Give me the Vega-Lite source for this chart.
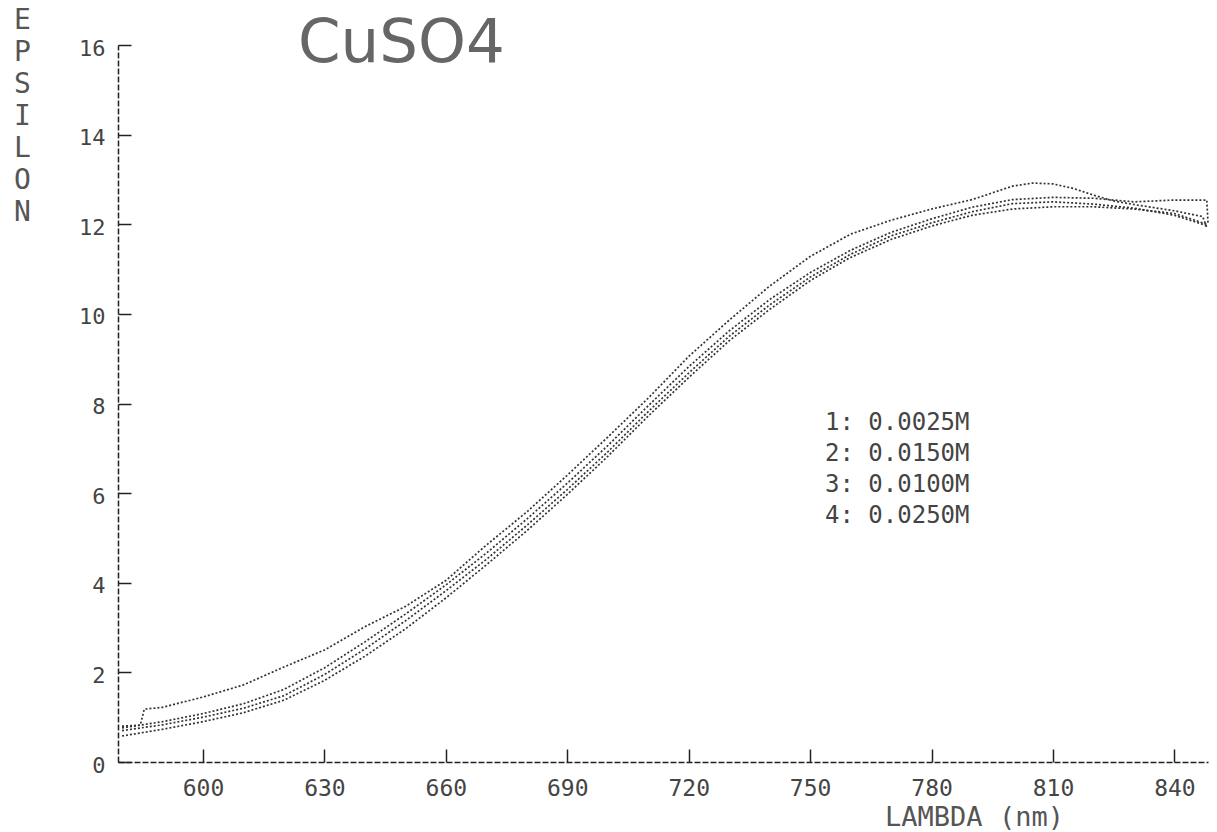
{
  "$schema": "https://vega.github.io/schema/vega-lite/v6.json",
  "autosize": "none",
  "padding": {"left": 118, "top": 45, "right": 9, "bottom": 70},
  "width": 1090,
  "height": 717,
  "background": "white",
  "title": {
    "text": "CuSO4",
    "anchor": "start",
    "frame": "group",
    "dx": 180,
    "dy": 63,
    "offset": -54,
    "baseline": "alphabetic",
    "font": "DejaVu Sans",
    "fontSize": 61,
    "fontWeight": "normal",
    "color": "#666666"
  },
  "config": {
    "view": {"stroke": null},
    "axis": {"grid": false}
  },
  "data": {
    "values": [
      {"s": "1: 0.0025M", "x": 580, "y": 0.8},
      {"s": "1: 0.0025M", "x": 584.5, "y": 0.82},
      {"s": "1: 0.0025M", "x": 585.5, "y": 1.18},
      {"s": "1: 0.0025M", "x": 590, "y": 1.22},
      {"s": "1: 0.0025M", "x": 600, "y": 1.45},
      {"s": "1: 0.0025M", "x": 610, "y": 1.72},
      {"s": "1: 0.0025M", "x": 620, "y": 2.12},
      {"s": "1: 0.0025M", "x": 630, "y": 2.5},
      {"s": "1: 0.0025M", "x": 640, "y": 3.02},
      {"s": "1: 0.0025M", "x": 650, "y": 3.47},
      {"s": "1: 0.0025M", "x": 660, "y": 4.05},
      {"s": "1: 0.0025M", "x": 670, "y": 4.84},
      {"s": "1: 0.0025M", "x": 680, "y": 5.58},
      {"s": "1: 0.0025M", "x": 690, "y": 6.4},
      {"s": "1: 0.0025M", "x": 700, "y": 7.25},
      {"s": "1: 0.0025M", "x": 710, "y": 8.12},
      {"s": "1: 0.0025M", "x": 720, "y": 9.05},
      {"s": "1: 0.0025M", "x": 730, "y": 9.86},
      {"s": "1: 0.0025M", "x": 740, "y": 10.62},
      {"s": "1: 0.0025M", "x": 750, "y": 11.28},
      {"s": "1: 0.0025M", "x": 760, "y": 11.78},
      {"s": "1: 0.0025M", "x": 770, "y": 12.09},
      {"s": "1: 0.0025M", "x": 780, "y": 12.34},
      {"s": "1: 0.0025M", "x": 790, "y": 12.55},
      {"s": "1: 0.0025M", "x": 795, "y": 12.7},
      {"s": "1: 0.0025M", "x": 800, "y": 12.85},
      {"s": "1: 0.0025M", "x": 805, "y": 12.92},
      {"s": "1: 0.0025M", "x": 810, "y": 12.9},
      {"s": "1: 0.0025M", "x": 815, "y": 12.8},
      {"s": "1: 0.0025M", "x": 820, "y": 12.65},
      {"s": "1: 0.0025M", "x": 825, "y": 12.52},
      {"s": "1: 0.0025M", "x": 830, "y": 12.44},
      {"s": "1: 0.0025M", "x": 840, "y": 12.3},
      {"s": "1: 0.0025M", "x": 847, "y": 12.17},
      {"s": "1: 0.0025M", "x": 848, "y": 11.92},
      {"s": "2: 0.0150M", "x": 580, "y": 0.76},
      {"s": "2: 0.0150M", "x": 590, "y": 0.9},
      {"s": "2: 0.0150M", "x": 600, "y": 1.08},
      {"s": "2: 0.0150M", "x": 610, "y": 1.3},
      {"s": "2: 0.0150M", "x": 620, "y": 1.62},
      {"s": "2: 0.0150M", "x": 630, "y": 2.1},
      {"s": "2: 0.0150M", "x": 640, "y": 2.68},
      {"s": "2: 0.0150M", "x": 650, "y": 3.3},
      {"s": "2: 0.0150M", "x": 660, "y": 3.95},
      {"s": "2: 0.0150M", "x": 670, "y": 4.66},
      {"s": "2: 0.0150M", "x": 680, "y": 5.42},
      {"s": "2: 0.0150M", "x": 690, "y": 6.22},
      {"s": "2: 0.0150M", "x": 700, "y": 7.06},
      {"s": "2: 0.0150M", "x": 710, "y": 7.95},
      {"s": "2: 0.0150M", "x": 720, "y": 8.82},
      {"s": "2: 0.0150M", "x": 730, "y": 9.62},
      {"s": "2: 0.0150M", "x": 740, "y": 10.32},
      {"s": "2: 0.0150M", "x": 750, "y": 10.92},
      {"s": "2: 0.0150M", "x": 760, "y": 11.42},
      {"s": "2: 0.0150M", "x": 770, "y": 11.82},
      {"s": "2: 0.0150M", "x": 780, "y": 12.12},
      {"s": "2: 0.0150M", "x": 790, "y": 12.38},
      {"s": "2: 0.0150M", "x": 800, "y": 12.55},
      {"s": "2: 0.0150M", "x": 810, "y": 12.6},
      {"s": "2: 0.0150M", "x": 820, "y": 12.58},
      {"s": "2: 0.0150M", "x": 830, "y": 12.5},
      {"s": "2: 0.0150M", "x": 840, "y": 12.54},
      {"s": "2: 0.0150M", "x": 848, "y": 12.54},
      {"s": "2: 0.0150M", "x": 848.3, "y": 12.03},
      {"s": "3: 0.0100M", "x": 580, "y": 0.7},
      {"s": "3: 0.0100M", "x": 590, "y": 0.83},
      {"s": "3: 0.0100M", "x": 600, "y": 1.0},
      {"s": "3: 0.0100M", "x": 610, "y": 1.2},
      {"s": "3: 0.0100M", "x": 620, "y": 1.48},
      {"s": "3: 0.0100M", "x": 630, "y": 1.95},
      {"s": "3: 0.0100M", "x": 640, "y": 2.52},
      {"s": "3: 0.0100M", "x": 650, "y": 3.15},
      {"s": "3: 0.0100M", "x": 660, "y": 3.82},
      {"s": "3: 0.0100M", "x": 670, "y": 4.52},
      {"s": "3: 0.0100M", "x": 680, "y": 5.28},
      {"s": "3: 0.0100M", "x": 690, "y": 6.08},
      {"s": "3: 0.0100M", "x": 700, "y": 6.92},
      {"s": "3: 0.0100M", "x": 710, "y": 7.82},
      {"s": "3: 0.0100M", "x": 720, "y": 8.68},
      {"s": "3: 0.0100M", "x": 730, "y": 9.5},
      {"s": "3: 0.0100M", "x": 740, "y": 10.2},
      {"s": "3: 0.0100M", "x": 750, "y": 10.82},
      {"s": "3: 0.0100M", "x": 760, "y": 11.33},
      {"s": "3: 0.0100M", "x": 770, "y": 11.74},
      {"s": "3: 0.0100M", "x": 780, "y": 12.03},
      {"s": "3: 0.0100M", "x": 790, "y": 12.28},
      {"s": "3: 0.0100M", "x": 800, "y": 12.46},
      {"s": "3: 0.0100M", "x": 810, "y": 12.5},
      {"s": "3: 0.0100M", "x": 820, "y": 12.45},
      {"s": "3: 0.0100M", "x": 830, "y": 12.36},
      {"s": "3: 0.0100M", "x": 840, "y": 12.2},
      {"s": "3: 0.0100M", "x": 848, "y": 11.97},
      {"s": "4: 0.0250M", "x": 580, "y": 0.58},
      {"s": "4: 0.0250M", "x": 590, "y": 0.73},
      {"s": "4: 0.0250M", "x": 600, "y": 0.9},
      {"s": "4: 0.0250M", "x": 610, "y": 1.1},
      {"s": "4: 0.0250M", "x": 620, "y": 1.38},
      {"s": "4: 0.0250M", "x": 630, "y": 1.82},
      {"s": "4: 0.0250M", "x": 640, "y": 2.36},
      {"s": "4: 0.0250M", "x": 650, "y": 2.97},
      {"s": "4: 0.0250M", "x": 660, "y": 3.66},
      {"s": "4: 0.0250M", "x": 670, "y": 4.4},
      {"s": "4: 0.0250M", "x": 680, "y": 5.16},
      {"s": "4: 0.0250M", "x": 690, "y": 5.97},
      {"s": "4: 0.0250M", "x": 700, "y": 6.82},
      {"s": "4: 0.0250M", "x": 710, "y": 7.72},
      {"s": "4: 0.0250M", "x": 720, "y": 8.58},
      {"s": "4: 0.0250M", "x": 730, "y": 9.4},
      {"s": "4: 0.0250M", "x": 740, "y": 10.1},
      {"s": "4: 0.0250M", "x": 750, "y": 10.74},
      {"s": "4: 0.0250M", "x": 760, "y": 11.26},
      {"s": "4: 0.0250M", "x": 770, "y": 11.66},
      {"s": "4: 0.0250M", "x": 780, "y": 11.96},
      {"s": "4: 0.0250M", "x": 790, "y": 12.2},
      {"s": "4: 0.0250M", "x": 800, "y": 12.34},
      {"s": "4: 0.0250M", "x": 810, "y": 12.39},
      {"s": "4: 0.0250M", "x": 820, "y": 12.39},
      {"s": "4: 0.0250M", "x": 830, "y": 12.34},
      {"s": "4: 0.0250M", "x": 840, "y": 12.24},
      {"s": "4: 0.0250M", "x": 848, "y": 12.0}
    ]
  },
  "mark": {"type": "line", "strokeWidth": 1.7, "strokeDash": [2, 2], "clip": false},
  "encoding": {
    "x": {
      "field": "x",
      "type": "quantitative",
      "scale": {"domain": [579, 848.3], "nice": false, "zero": false},
      "axis": {
        "values": [600, 630, 660, 690, 720, 750, 780, 810, 840],
        "title": "LAMBDA (nm)",
        "titleFont": "DejaVu Sans Mono",
        "titleFontSize": 27,
        "titleFontWeight": "normal",
        "titleColor": "#555555",
        "titleAnchor": "start",
        "titleAlign": "center",
        "titleBaseline": "alphabetic",
        "titleX": 856,
        "titleY": 63,
        "labelFont": "DejaVu Sans Mono",
        "labelFontSize": 23,
        "labelColor": "#444444",
        "labelBaseline": "middle",
        "labelPadding": 39,
        "labelFlush": false,
        "tickSize": -13,
        "tickColor": "#222222",
        "tickWidth": 1.5,
        "domainColor": "#222222",
        "domainWidth": 1.5,
        "domainDash": [6, 2]
      }
    },
    "y": {
      "field": "y",
      "type": "quantitative",
      "scale": {"domain": [0, 16], "nice": false},
      "axis": {
        "values": [0, 2, 4, 6, 8, 10, 12, 14, 16],
        "title": ["E", "P", "S", "I", "L", "O", "N"],
        "titleFont": "DejaVu Sans Mono",
        "titleFontSize": 28,
        "titleFontWeight": "normal",
        "titleColor": "#555555",
        "titleAngle": 0,
        "titleAlign": "center",
        "titleBaseline": "top",
        "titleLineHeight": 32,
        "titleX": -96,
        "titleY": -39,
        "labelFont": "DejaVu Sans Mono",
        "labelFontSize": 22,
        "labelColor": "#444444",
        "labelBaseline": "middle",
        "labelAlign": "right",
        "labelPadding": 26,
        "labelOffset": 3,
        "labelFlush": false,
        "tickSize": -13,
        "tickColor": "#222222",
        "tickWidth": 1.5,
        "domainColor": "#222222",
        "domainWidth": 1.5,
        "domainDash": [6, 2]
      }
    },
    "color": {
      "field": "s",
      "type": "nominal",
      "scale": {"range": ["#333333", "#333333", "#333333", "#333333"]},
      "legend": {
        "title": null,
        "orient": "none",
        "legendX": 683,
        "legendY": 366,
        "padding": 0,
        "symbolSize": 0,
        "symbolOpacity": 0,
        "symbolStrokeWidth": 0,
        "labelOffset": 0,
        "labelFont": "DejaVu Sans Mono",
        "labelFontSize": 24,
        "labelColor": "#444444",
        "rowPadding": 7
      }
    }
  }
}
